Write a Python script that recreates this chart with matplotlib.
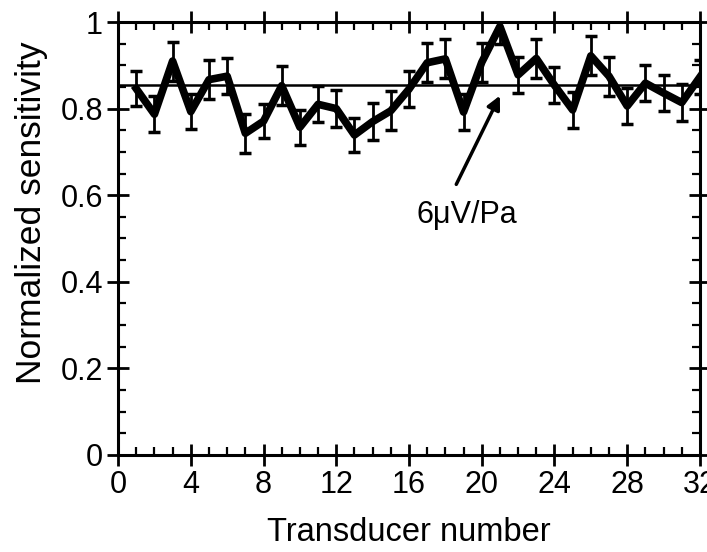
import matplotlib
matplotlib.use("Agg")
import matplotlib.pyplot as plt
from matplotlib.ticker import MultipleLocator

plt.rcParams['font.family'] = ['Liberation Sans', 'DejaVu Sans']

# Sensibilidad normalizada por transductor
transductor = list(range(1, 33))
sensibilidad = [0.846, 0.787, 0.910, 0.793, 0.867, 0.875, 0.743, 0.771,
                0.853, 0.757, 0.810, 0.800, 0.739, 0.770, 0.795, 0.845,
                0.906, 0.915, 0.792, 0.907, 0.990, 0.878, 0.916, 0.854,
                0.797, 0.922, 0.875, 0.806, 0.859, 0.836, 0.814, 0.873]
error = [0.040, 0.042, 0.045, 0.040, 0.045, 0.042, 0.045, 0.040,
         0.045, 0.040, 0.042, 0.042, 0.040, 0.042, 0.045, 0.042,
         0.045, 0.045, 0.042, 0.045, 0.040, 0.042, 0.045, 0.042,
         0.042, 0.045, 0.045, 0.042, 0.042, 0.042, 0.042, 0.040]
media = 0.855

fig = plt.figure(figsize=(7.07, 5.52), dpi=100)
ax = fig.add_axes([0.167, 0.176, 0.823, 0.784])

ax.axhline(media, color="black", lw=1.8, zorder=2)
ax.errorbar(transductor, sensibilidad, yerr=error, color="black", lw=5.5,
            elinewidth=2, capsize=4.5, capthick=2.5, zorder=3)

# Etiqueta y flecha hacia la línea media
ax.text(19.2, 0.555, "6\u03bcV/Pa", fontsize=22, ha="center", va="center")
ax.annotate("", xy=(21.0, 0.83), xytext=(18.6, 0.625),
            arrowprops=dict(arrowstyle="-|>", color="black", lw=2.5,
                            mutation_scale=20, shrinkA=0, shrinkB=0))

ax.set_xlim(0, 32)
ax.set_ylim(0, 1)
ax.xaxis.set_major_locator(MultipleLocator(4))
ax.xaxis.set_minor_locator(MultipleLocator(1))
ax.yaxis.set_minor_locator(MultipleLocator(0.05))
ax.set_yticks([0, 0.2, 0.4, 0.6, 0.8, 1.0])
ax.set_yticklabels(["0", "0.2", "0.4", "0.6", "0.8", "1"])

ax.tick_params(which="major", direction="inout", length=16, width=2,
               top=True, right=True, labelsize=22, pad=3)
ax.tick_params(which="minor", direction="in", length=6, width=1.6,
               top=True, right=True)
for s in ax.spines.values():
    s.set_linewidth(2.2)

ax.set_xlabel("Transducer number", fontsize=23.5, labelpad=12)
ax.set_ylabel("Normalized sensitivity", fontsize=25.5)
ax.yaxis.set_label_coords(-0.12, 0.56)

fig.savefig("out.png", dpi=100)
